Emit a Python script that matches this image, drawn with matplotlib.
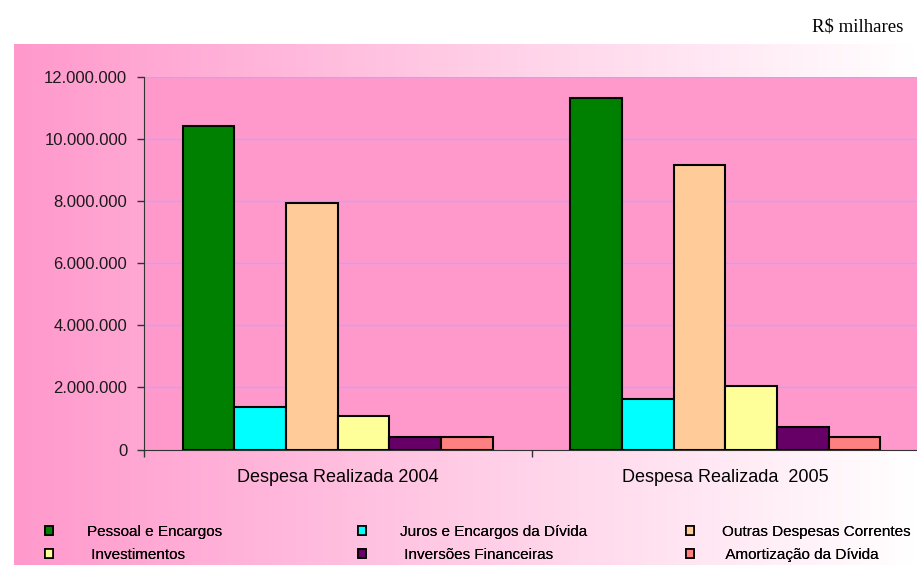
import numpy as np
import matplotlib
matplotlib.use("Agg")
import matplotlib.pyplot as plt
from matplotlib.patches import Patch
from matplotlib.ticker import FuncFormatter, FixedLocator

plt.rcParams['font.family'] = ['Liberation Sans', 'DejaVu Sans']

categories = ["Despesa Realizada 2004", "Despesa Realizada  2005"]
series_names = ["Pessoal e Encargos", "Juros e Encargos da Dívida",
                "Outras Despesas Correntes", " Investimentos",
                " Inversões Financeiras", " Amortização da Dívida"]
values_2004 = [10420000, 1380000, 7950000, 1080000, 400000, 400000]
values_2005 = [11320000, 1620000, 9150000, 2050000, 720000, 400000]
colors = ["#008000", "#00FFFF", "#FFCC99", "#FFFF99", "#660066", "#FF8080"]
yticks = [0, 2000000, 4000000, 6000000, 8000000, 10000000, 12000000]

W, H = 917, 565
fig = plt.figure(figsize=(W / 100, H / 100), dpi=100)

# gradient background (pink -> white, left to right)
bg = fig.add_axes([14 / W, 0, 1 - 14 / W, (H - 44) / H], zorder=-10)
t = np.linspace(0, 1, 256)
pink = np.array([255, 153, 204]) / 255.0
grad = pink[None, :] * (1 - t[:, None]) + np.ones(3)[None, :] * t[:, None]
bg.imshow(grad[None, :, :], aspect='auto', extent=[0, 1, 0, 1])
bg.set_axis_off()

ax = fig.add_axes([144 / W, (H - 449.5) / H, (919 - 144) / W, (449.5 - 77) / H])
ax.set_facecolor("#FF99CC")

x = np.arange(len(categories))
n = len(series_names)
bw = 0.8 / n
data = np.array([values_2004, values_2005])
for i in range(n):
    ax.bar(x - 0.4 + bw * (i + 0.5), data[:, i], width=bw, color=colors[i],
           edgecolor="black", linewidth=1.5, zorder=3)

ax.set_xlim(-0.5, 1.5)
ax.set_ylim(0, 12000000)
ax.set_yticks(yticks)
ax.yaxis.set_major_formatter(FuncFormatter(lambda v, p: f"{int(v):,}".replace(",", ".")))
ax.grid(axis='y', color="#C9A0F5", linewidth=1, zorder=1)
ax.set_axisbelow(True)

ax.set_xticks(x)
ax.set_xticklabels(categories, fontsize=13)
ax.xaxis.set_minor_locator(FixedLocator([-0.5, 0.5, 1.5]))
ax.tick_params(axis='x', which='major', length=0, pad=14)
ax.tick_params(axis='x', which='minor', length=5, width=1, direction='out', color='#333333')
ax.tick_params(axis='y', length=5, width=1, direction='out', pad=7, labelsize=12,
               color='#333333', labelcolor='#1a1a1a')

for s in ["top", "right"]:
    ax.spines[s].set_visible(False)
ax.spines["left"].set_color("#333333")
ax.spines["bottom"].set_color("#333333")

fig.text(903 / W, 1 - 27 / H, "R$ milhares", family="Liberation Serif",
         fontsize=13.5, ha="right", va="center")

# legend: three columns of two entries
col_x = [45, 358, 686]
pads = [2.2, 2.2, 1.8]
for c in range(3):
    idx = [c, c + 3]
    handles = [Patch(facecolor=colors[k], edgecolor="black", linewidth=1.2,
                     label=series_names[k]) for k in idx]
    leg = fig.legend(handles=handles, loc="upper left",
                     bbox_to_anchor=(col_x[c] / W, 1 - 525 / H),
                     frameon=False, fontsize=11, handlelength=0.55,
                     handleheight=0.55, handletextpad=pads[c], labelspacing=0.6,
                     borderpad=0, borderaxespad=0)
    fig.add_artist(leg)

fig.savefig("out.png", dpi=100)
